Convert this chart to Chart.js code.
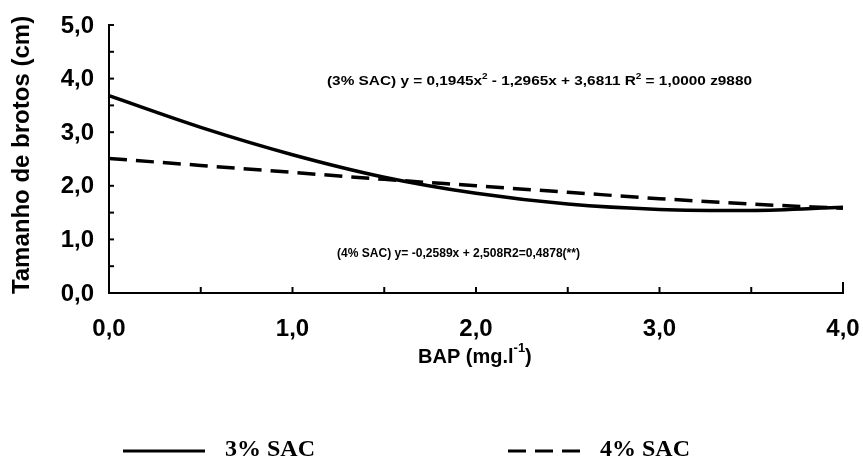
<!DOCTYPE html>
<html>
<head>
<meta charset="utf-8">
<script src="https://cdn.jsdelivr.net/npm/chart.js@4"></script>
<style>
  body { margin: 0; background: #fff; }
  #wrap { width: 863px; height: 459px; }
</style>
</head>
<body>
<div id="wrap"><canvas id="brotos" width="863" height="459"></canvas></div>
<script>
// BAP doses (mg.l-1) and shoot size (cm) for each sucrose level
const bapDoses = [0, 0.5, 1.0, 1.5, 2.0, 2.5, 3.0, 3.5, 4.0]
const sac3 = [3.68, 3.09, 2.58, 2.16, 1.86, 1.66, 1.56, 1.54, 1.60]
const sac4 = [2.51, 2.38, 2.25, 2.12, 2.00, 1.88, 1.76, 1.66, 1.58]
const seriesNames = ['3% SAC', '4% SAC']
const xTickLabels = ['0,0', '1,0', '2,0', '3,0', '4,0']
const yTickLabels = ['0,0', '1,0', '2,0', '3,0', '4,0', '5,0']

const sans = '"Liberation Sans", Arial, sans-serif'

function toPoints(ys) {
  return bapDoses.map((x, i) => ({ x: x, y: ys[i] }))
}

// text with superscripts: parts are [text, isSup]
function drawRich(ctx, parts, x, y, size, width) {
  let total = 0
  parts.forEach(p => {
    ctx.font = 'bold ' + (p[1] ? size * 0.65 : size) + 'px ' + sans
    total += ctx.measureText(p[0]).width
  })
  ctx.save()
  ctx.translate(x, y)
  ctx.scale(width / total, 1)
  let cx = 0
  parts.forEach(p => {
    ctx.font = 'bold ' + (p[1] ? size * 0.65 : size) + 'px ' + sans
    ctx.fillText(p[0], cx, p[1] ? -size * 0.45 : 0)
    cx += ctx.measureText(p[0]).width
  })
  ctx.restore()
}

const axisDecor = {
  id: 'axisDecor',
  afterDatasetsDraw(chart) {
    const ctx = chart.ctx
    const xs = chart.scales.x
    const ys = chart.scales.y
    const left = xs.left, bottom = ys.bottom
    ctx.save()
    ctx.strokeStyle = '#000'
    ctx.lineWidth = 2
    // inner tick marks every 0,5
    for (let v = 0.5; v <= 5; v += 0.5) {
      const py = ys.getPixelForValue(v)
      ctx.beginPath(); ctx.moveTo(left, py); ctx.lineTo(left + 5, py); ctx.stroke()
    }
    for (let v = 0.5; v <= 4; v += 0.5) {
      const px = xs.getPixelForValue(v)
      const len = v === 4 ? 11 : 6
      ctx.beginPath(); ctx.moveTo(px, bottom); ctx.lineTo(px, bottom - len); ctx.stroke()
    }
    ctx.restore()
  },
  afterDraw(chart) {
    const ctx = chart.ctx
    const xs = chart.scales.x
    const ys = chart.scales.y
    ctx.save()
    ctx.fillStyle = '#000'
    ctx.font = 'bold 24px ' + sans
    // tick labels
    ctx.textAlign = 'right'
    ctx.textBaseline = 'middle'
    yTickLabels.forEach((t, i) => ctx.fillText(t, xs.left - 15, ys.getPixelForValue(i) + 1))
    ctx.textAlign = 'center'
    ctx.textBaseline = 'top'
    xTickLabels.forEach((t, i) => ctx.fillText(t, xs.getPixelForValue(i), ys.bottom + 24))

    // axis titles
    ctx.font = 'bold 24px ' + sans
    ctx.save()
    ctx.translate(22, 155)
    ctx.rotate(-Math.PI / 2)
    ctx.textBaseline = 'middle'
    ctx.fillText('Tamanho de brotos (cm)', 0, 0)
    ctx.restore()
    ctx.textBaseline = 'alphabetic'
    ctx.textAlign = 'left'
    ctx.font = 'bold 20px ' + sans
    const bx = 418
    ctx.fillText('BAP (mg.l', bx, 363)
    let w = ctx.measureText('BAP (mg.l').width
    ctx.font = 'bold 13px ' + sans
    ctx.fillText('-1', bx + w, 352)
    w += ctx.measureText('-1').width
    ctx.font = 'bold 20px ' + sans
    ctx.fillText(')', bx + w, 363)

    // regression equations
    drawRich(ctx, [['(3% SAC) y = 0,1945x', false], ['2', true], [' - 1,2965x + 3,6811 R', false], ['2', true], [' = 1,0000 z9880', false]], 327, 85, 13.5, 425)
    drawRich(ctx, [['(4% SAC) y= -0,2589x + 2,508R2=0,4878(**)', false]], 337, 257, 13.5, 243)

    // legend
    const ly = 451
    const items = [
      { x0: 123, x1: 205, tx: 225, ds: chart.data.datasets[0] },
      { x0: 508, x1: 580, tx: 600, ds: chart.data.datasets[1] }
    ]
    items.forEach(it => {
      ctx.save()
      ctx.strokeStyle = '#000'
      ctx.lineWidth = 3
      ctx.setLineDash(it.ds.borderDash || [])
      ctx.beginPath(); ctx.moveTo(it.x0, ly); ctx.lineTo(it.x1, ly); ctx.stroke()
      ctx.restore()
      ctx.font = 'bold 24px "Liberation Serif", "Times New Roman", serif'
      ctx.textBaseline = 'middle'
      ctx.fillText(it.ds.label, it.tx, ly - 1)
    })
    ctx.restore()
  }
}

new Chart('brotos', {
  type: 'line',
  data: {
    datasets: [
      {
        label: seriesNames[0],
        data: toPoints(sac3),
        borderColor: '#000',
        borderWidth: 3.5,
        pointRadius: 0,
        cubicInterpolationMode: 'monotone',
      },
      {
        label: seriesNames[1],
        data: toPoints(sac4),
        borderColor: '#000',
        borderWidth: 3.5,
        borderDash: [18, 9],
        pointRadius: 0,
        cubicInterpolationMode: 'monotone',
      },
    ],
  },
  options: {
    responsive: false,
    animation: false,
    layout: { padding: { left: 101, right: 20, top: 25, bottom: 158 } },
    plugins: { legend: { display: false }, tooltip: { enabled: false } },
    scales: {
      x: {
        type: 'linear', min: 0, max: 4,
        grid: { display: false },
        border: { display: true, color: '#000', width: 2 },
        ticks: { display: false, stepSize: 0.5 },
      },
      y: {
        min: 0, max: 5,
        grid: { display: false },
        border: { display: true, color: '#000', width: 2 },
        ticks: { display: false, stepSize: 0.5 },
      },
    },
  },
  plugins: [axisDecor],
})
</script>
</body>
</html>
